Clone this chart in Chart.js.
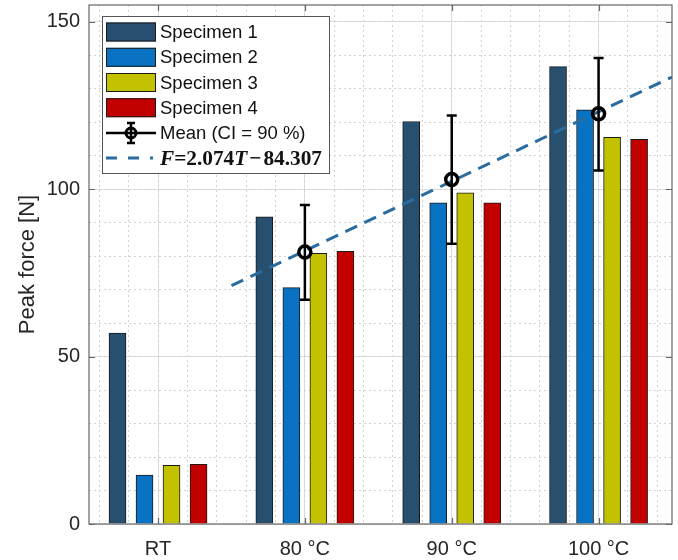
<!DOCTYPE html>
<html>
<head>
<meta charset="utf-8">
<script src="https://cdn.jsdelivr.net/npm/chart.js@4"></script>
<style>
    html, body { margin: 0; padding: 0; background: #fff; }
    #wrap { width: 678px; height: 560px; }
</style>
</head>
<body>
<div id="wrap"><canvas id="peakChart"></canvas></div>
<script>
// Data
const categories = ['RT', '80 °C', '90 °C', '100 °C'];
const specimen1 = [57.0, 91.7, 120.2, 136.6];
const specimen2 = [14.6, 70.6, 95.9, 123.7];
const specimen3 = [17.5, 80.8, 98.9, 115.5];
const specimen4 = [17.8, 81.4, 95.9, 114.9];
const meanForce = [null, 81.2, 102.9, 122.5];
const ciLow = [null, 67.0, 83.7, 105.6];
const ciHigh = [null, 95.3, 122.0, 139.2];
// linear fit end points (x in category units: 75 °C .. 105 °C)
const fitX = [1.5, 4.5];
const fitY = [71.2, 133.5];
const yTicks = [0, 50, 100, 150];

const seriesLabels = ['Specimen 1', 'Specimen 2', 'Specimen 3', 'Specimen 4'];
const seriesValues = [specimen1, specimen2, specimen3, specimen4];
const seriesColors = ['#264F70', '#0A72C2', '#C2C200', '#C20000'];
const fitColor = '#2B6CA0';
const barOffsets = [-0.276, -0.092, 0.092, 0.276];
const fontFamily = "'Liberation Sans', Arial, sans-serif";
const textColor = '#262626';

const barSets = seriesValues.map((values, i) => ({
    type: 'bar',
    label: seriesLabels[i],
    data: values.map((v, k) => ({ x: k + 1 + barOffsets[i], y: v })),
    backgroundColor: seriesColors[i],
    borderColor: '#1a1a1a',
    borderWidth: 1,
    barThickness: 17,
    grouped: false,
    order: 3
}));

const fitSet = {
    type: 'line',
    label: 'fit',
    data: fitX.map((x, i) => ({ x: x, y: fitY[i] })),
    borderColor: fitColor,
    borderWidth: 3,
    borderDash: [13, 8],
    pointRadius: 0,
    order: 1
};

const meanSet = {
    type: 'line',
    label: 'Mean (CI = 90 %)',
    data: meanForce.map((v, k) => ({ x: k + 1, y: v })).filter(p => p.y !== null),
    showLine: false,
    pointStyle: 'circle',
    pointRadius: 6,
    pointBorderWidth: 3.5,
    pointBorderColor: '#000',
    pointBackgroundColor: 'rgba(0,0,0,0)',
    order: 0
};

// Error bars, axes box, inward tick marks and the legend
const matlabLook = {
    id: 'matlabLook',
    afterDatasetsDraw(chart) {
        const { ctx, scales: { x, y } } = chart;
        ctx.save();
        ctx.strokeStyle = '#000';
        ctx.lineWidth = 2.5;
        meanForce.forEach((m, k) => {
            if (m === null) return;
            const px = x.getPixelForValue(k + 1);
            const lo = y.getPixelForValue(ciLow[k]);
            const hi = y.getPixelForValue(ciHigh[k]);
            ctx.beginPath();
            ctx.moveTo(px, lo); ctx.lineTo(px, hi);
            ctx.moveTo(px - 5, lo); ctx.lineTo(px + 5, lo);
            ctx.moveTo(px - 5, hi); ctx.lineTo(px + 5, hi);
            ctx.stroke();
        });
        ctx.restore();
    },
    afterDraw(chart) {
        const { ctx, chartArea: a, scales: { x, y } } = chart;
        ctx.save();
        // box
        ctx.strokeStyle = '#666';
        ctx.lineWidth = 1.2;
        ctx.strokeRect(a.left, a.top, a.right - a.left, a.bottom - a.top);
        ctx.beginPath();
        yTicks.forEach(v => {
            const py = Math.round(y.getPixelForValue(v)) + 0.5;
            ctx.moveTo(a.left, py); ctx.lineTo(a.left + 6, py);
            ctx.moveTo(a.right, py); ctx.lineTo(a.right - 6, py);
        });
        categories.forEach((c, k) => {
            const px = Math.round(x.getPixelForValue(k + 1)) + 0.5;
            ctx.moveTo(px, a.bottom); ctx.lineTo(px, a.bottom - 6);
            ctx.moveTo(px, a.top); ctx.lineTo(px, a.top + 6);
        });
        ctx.stroke();

        // legend
        const lx = 102, ly = 16, lw = 227, lh = 157;
        ctx.fillStyle = '#fff';
        ctx.fillRect(lx, ly, lw, lh);
        ctx.strokeStyle = '#555';
        ctx.lineWidth = 1;
        ctx.strokeRect(lx + 0.5, ly + 0.5, lw, lh);
        const rows = [32, 57.3, 82.5, 107.7, 133, 158];
        ctx.textBaseline = 'middle';
        ctx.textAlign = 'left';
        ctx.font = '18.5px ' + fontFamily;
        seriesLabels.forEach((lab, i) => {
            ctx.fillStyle = seriesColors[i];
            ctx.fillRect(106, rows[i] - 9.5, 50, 19);
            ctx.strokeStyle = '#1a1a1a';
            ctx.strokeRect(106.5, rows[i] - 9, 49, 18);
            ctx.fillStyle = '#111';
            ctx.fillText(lab, 160, rows[i] + 1);
        });
        // mean symbol
        const my = rows[4];
        ctx.strokeStyle = '#000';
        ctx.lineWidth = 2.5;
        ctx.beginPath();
        ctx.moveTo(106, my); ctx.lineTo(156, my);
        ctx.moveTo(131, my - 10); ctx.lineTo(131, my + 10);
        ctx.moveTo(127, my - 10); ctx.lineTo(135, my - 10);
        ctx.moveTo(127, my + 10); ctx.lineTo(135, my + 10);
        ctx.stroke();
        ctx.lineWidth = 3;
        ctx.beginPath();
        ctx.arc(131, my, 5, 0, Math.PI * 2);
        ctx.stroke();
        ctx.fillStyle = '#111';
        ctx.fillText(meanSet.label, 160, my + 1);
        // fit symbol
        const fy = rows[5];
        ctx.strokeStyle = fitColor;
        ctx.lineWidth = 3;
        ctx.setLineDash([11, 11]);
        ctx.beginPath();
        ctx.moveTo(106, fy); ctx.lineTo(153, fy);
        ctx.stroke();
        ctx.setLineDash([]);
        const parts = [
            ['F', true], ['=2.074', false], ['T', true], ['\u2212', false], ['84.307', false]
        ];
        let tx = 160;
        parts.forEach(([s, it]) => {
            ctx.font = (it ? 'italic ' : '') + 'bold 21.3px "Liberation Serif", "DejaVu Serif", serif';
            const pad = s === '\u2212' ? 2 : 0;
            ctx.fillText(s, tx + pad, fy + 1);
            tx += ctx.measureText(s).width + pad * 2;
        });
        ctx.restore();
    }
};

function minorTicks(from, to, step) {
    const t = [];
    for (let v = from; v <= to + 1e-9; v += step) t.push({ value: +v.toFixed(2) });
    return t;
}

function noEdgePad(s) {
    s.paddingLeft = 0; s.paddingRight = 0; s.paddingTop = 0; s.paddingBottom = 0;
}

new Chart(document.getElementById('peakChart'), {
    type: 'bar',
    data: { datasets: [meanSet, fitSet, ...barSets] },
    options: {
        responsive: true,
        maintainAspectRatio: false,
        animation: false,
        devicePixelRatio: 1,
        layout: { autoPadding: false, padding: { left: 0, top: 5, right: 6, bottom: 0 } },
        plugins: { legend: { display: false }, tooltip: { enabled: false } },
        scales: {
            x: {
                type: 'linear', position: 'bottom', min: 0.53, max: 4.5, offset: false,
                afterBuildTicks: s => { s.ticks = categories.map((c, i) => ({ value: i + 1 })); },
                afterFit: s => { s.height = 36; noEdgePad(s); },
                ticks: {
                    callback: v => categories[Math.round(v) - 1] || '',
                    color: textColor, font: { family: fontFamily, size: 20 },
                    padding: 13, maxRotation: 0, autoSkip: false
                },
                grid: { color: '#dedede', lineWidth: 1, drawTicks: false, offset: false },
                border: { display: false }
            },
            xMinor: {
                type: 'linear', position: 'bottom', min: 0.53, max: 4.5, offset: false,
                afterBuildTicks: s => { s.ticks = minorTicks(0.6, 4.4, 0.2); },
                afterFit: s => { s.height = 0; noEdgePad(s); },
                ticks: { display: false },
                grid: { color: '#d2d2d2', lineWidth: 1, drawTicks: false, offset: false },
                border: { display: false, dash: [2, 3] }
            },
            y: {
                type: 'linear', position: 'left', min: 0, max: 155,
                afterBuildTicks: s => { s.ticks = yTicks.map(v => ({ value: v })); },
                afterFit: s => { s.width = 89; noEdgePad(s); },
                ticks: {
                    color: textColor, font: { family: fontFamily, size: 20 }, padding: 9
                },
                title: {
                    display: true, text: 'Peak force [N]', color: textColor,
                    font: { family: fontFamily, size: 22 }, padding: { top: 15, bottom: 0 }
                },
                grid: { color: '#dedede', lineWidth: 1, drawTicks: false },
                border: { display: false }
            },
            yMinor: {
                type: 'linear', position: 'left', min: 0, max: 155,
                afterBuildTicks: s => { s.ticks = minorTicks(10, 150, 10); },
                afterFit: s => { s.width = 0; noEdgePad(s); },
                ticks: { display: false },
                grid: { color: '#d2d2d2', lineWidth: 1, drawTicks: false },
                border: { display: false, dash: [2, 3] }
            }
        }
    },
    plugins: [matlabLook]
});
</script>
</body>
</html>
